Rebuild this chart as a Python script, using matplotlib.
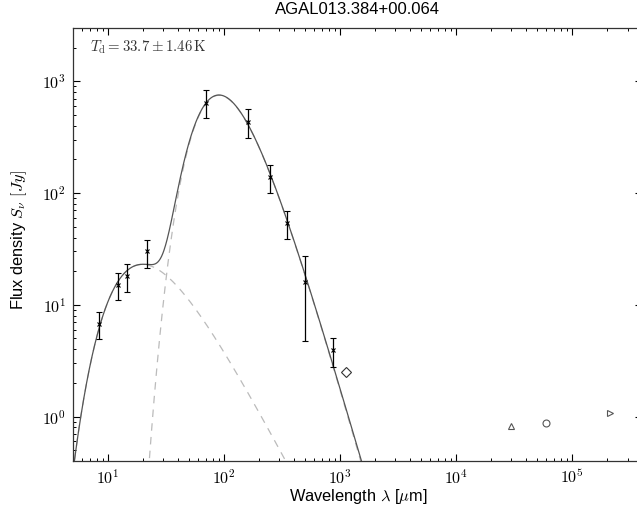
import numpy as np
import matplotlib
matplotlib.use('Agg')
import matplotlib.pyplot as plt
from matplotlib.ticker import FuncFormatter, LogLocator, NullFormatter

plt.rcParams['mathtext.fontset'] = 'cm'
plt.rcParams['font.family'] = ['Liberation Sans', 'DejaVu Sans']

# photometry (wavelength in micron, flux in Jy)
wave = [8.3, 12.1, 14.7, 21.5, 70, 160, 250, 350, 500, 870]
flux = [6.8, 15.0, 18.0, 30.0, 640, 430, 138, 54, 16.0, 3.9]
flux_lo = [4.9, 11.0, 13.0, 21.5, 470, 310, 100, 39, 4.7, 2.8]
flux_hi = [8.6, 19.4, 23.0, 38.0, 830, 560, 180, 69, 27.5, 5.0]

# other measurements, plotted without error bars
extra_wave = [1120, 30000, 60000, 210000]
extra_flux = [2.5, 0.83, 0.88, 1.08]
extra_marker = ['D', '^', 'o', '>']
extra_color = ['#333333', '#555555', '#555555', '#555555']

# greybody fit parameters
t_cold, beta_cold, peak_cold = 33.7, 1.75, 750.0
t_warm, beta_warm, peak_warm = 258.0, 0.0, 23.0
t_err = 1.46


def greybody(lam, temp, beta, peak):
    x = 14387.77 / (lam * temp)
    s = x ** (3 + beta) / np.expm1(x)
    grid = np.logspace(0, 6, 4000)
    xg = 14387.77 / (grid * temp)
    return peak * s / np.max(xg ** (3 + beta) / np.expm1(xg))


lam = np.logspace(np.log10(4), np.log10(5e5), 1500)
cold = greybody(lam, t_cold, beta_cold, peak_cold)
warm = greybody(lam, t_warm, beta_warm, peak_warm)

fig = plt.figure(figsize=(6.37, 5.12), dpi=100)
ax = fig.add_axes([73 / 637, 1 - 461 / 512, 569 / 637, 433 / 512])

ax.plot(lam, cold, '--', color='#bbbbbb', lw=0.9, dashes=(6, 5))
ax.plot(lam, warm, '--', color='#bbbbbb', lw=0.9, dashes=(6, 5))
ax.plot(lam, cold + warm, '-', color='#555555', lw=0.9)

f = np.array(flux)
yerr = [f - np.array(flux_lo), np.array(flux_hi) - f]
ax.errorbar(wave, flux, yerr=yerr, fmt='x', color='black', ms=3.5, mew=0.8,
            elinewidth=0.9, capsize=2.5, capthick=0.9)

for xw, yf, m, c in zip(extra_wave, extra_flux, extra_marker, extra_color):
    ax.plot(xw, yf, m, mfc='none', mec=c, ms=5, mew=0.8)

ax.set_xscale('log')
ax.set_yscale('log')
ax.set_xlim(5, 4e5)
ax.set_ylim(0.4, 3000)

fmt = FuncFormatter(lambda v, p: r'$10^{%d}$' % round(np.log10(v)))
ax.xaxis.set_major_formatter(fmt)
ax.yaxis.set_major_formatter(fmt)
ax.xaxis.set_minor_locator(LogLocator(base=10, subs=np.arange(2, 10), numticks=20))
ax.yaxis.set_minor_locator(LogLocator(base=10, subs=np.arange(2, 10), numticks=20))
ax.xaxis.set_minor_formatter(NullFormatter())
ax.yaxis.set_minor_formatter(NullFormatter())
ax.tick_params(which='both', direction='in', top=True, right=True, labelsize=11.5)
ax.tick_params(which='major', length=5, width=0.8, pad=5)
ax.tick_params(which='minor', length=2.5, width=0.7)
for s in ax.spines.values():
    s.set_linewidth(0.9)
    s.set_color('#333333')

ax.set_xlabel(r'Wavelength $\lambda$ [$\mu$m]', fontsize=11.8)
ax.set_ylabel(r'Flux density $S_\nu\ [Jy]$', fontsize=11.8)
ax.xaxis.set_label_coords((358 - 73) / 569, -(497 - 461) / 433)
ax.yaxis.set_label_coords(-(73 - 19) / 569, 0.5 + 4 / 433)
ax.xaxis.label.set_va('center')
ax.yaxis.label.set_va('center')
ax.set_title('AGAL013.384+00.064', fontsize=12, pad=10)
ax.text(0.03, 0.975, r'$T_{\rm d} = %.1f \pm %.2f\,{\rm K}$' % (t_cold, t_err),
        transform=ax.transAxes, ha='left', va='top', fontsize=10.7, color='#333333')

fig.savefig('out.png', dpi=100)
